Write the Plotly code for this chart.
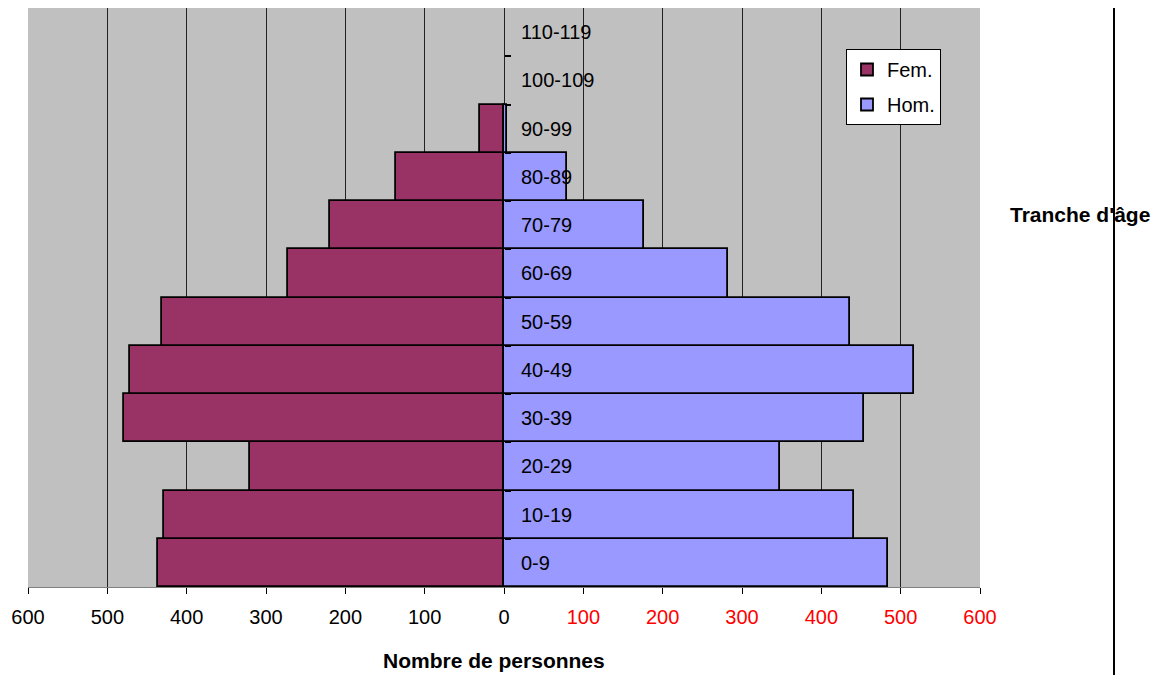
import plotly.graph_objects as go

categories = ["0-9", "10-19", "20-29", "30-39", "40-49", "50-59",
              "60-69", "70-79", "80-89", "90-99", "100-109", "110-119"]
fem = [436, 428, 320, 479, 471, 431, 272, 219, 136, 30, 0, 0]
hom = [484, 441, 348, 454, 517, 436, 282, 176, 79, 4, 0, 0]
tick_vals = [-600, -500, -400, -300, -200, -100, 0, 100, 200, 300, 400, 500, 600]

# page has an 8px body margin: figure starts at (8, 8) in the window
OFF = 8
W, H = 1162 - OFF, 675 - OFF
L, T = 28 - OFF, 8 - OFF
R = 1162 - 980
B = 675 - 587
pw, ph = W - L - R, H - T - B

def ptx(px):
    return (px - OFF - L) / pw

def pty(py):
    return 1 - (py - OFF - T) / ph

tick_text = []
for v in tick_vals:
    if v > 0:
        tick_text.append('<span style="color:#FF0000">%d</span>' % v)
    else:
        tick_text.append(str(abs(v)))

fig = go.Figure()
fig.add_trace(go.Bar(
    y=categories, x=[-v for v in fem], orientation="h", name="Fem.",
    marker=dict(color="#993366",
                line=dict(color="#000000", width=[1.8 if v else 0 for v in fem])),
    legendgroup="f"))
fig.add_trace(go.Bar(
    y=categories, x=hom, orientation="h", name="Hom.",
    marker=dict(color="#9999FF",
                line=dict(color="#000000", width=[1.8 if v else 0 for v in hom])),
    legendgroup="h"))

annotations = []
for c in categories:
    annotations.append(dict(x=0, y=c, xref="x", yref="y", text=c, showarrow=False,
                            xanchor="left", yanchor="middle", xshift=15,
                            font=dict(family="Liberation Sans, Arial", size=20, color="#000000")))
annotations.append(dict(x=ptx(1080), y=pty(215), xref="paper", yref="paper",
                        text="<b>Tranche d'âge</b>", showarrow=False,
                        xanchor="center", yanchor="middle",
                        font=dict(family="Liberation Sans, Arial", size=21, color="#000000")))
annotations.append(dict(x=ptx(494), y=pty(660), xref="paper", yref="paper",
                        text="<b>Nombre de personnes</b>", showarrow=False,
                        xanchor="center", yanchor="middle",
                        font=dict(family="Liberation Sans, Arial", size=21, color="#000000")))

fig.update_layout(
    width=W, height=H,
    margin=dict(l=L, r=R, t=T, b=B, pad=0),
    paper_bgcolor="#FFFFFF", plot_bgcolor="#C0C0C0",
    barmode="overlay", bargap=0,
    font=dict(family="Liberation Sans, Arial", size=20, color="#000000"),
    showlegend=True,
    legend=dict(x=ptx(846), y=pty(49), xanchor="left", yanchor="top",
                bgcolor="#FFFFFF", bordercolor="#000000", borderwidth=1,
                font=dict(size=20), tracegroupgap=6, traceorder="grouped",
                itemwidth=30),
    xaxis=dict(range=[-600, 600], tickvals=tick_vals, ticktext=tick_text,
               showgrid=True, gridcolor="#222222", gridwidth=1,
               zeroline=False, showline=True, linecolor="#808080", linewidth=1,
               mirror=True, ticks="outside", ticklen=6, tickcolor="#000000",
               ticklabelstandoff=6, tickfont=dict(size=20)),
    yaxis=dict(type="category", categoryorder="array", categoryarray=categories,
               range=[-0.5, len(categories) - 0.5],
               anchor="free", position=0.5, showticklabels=False,
               ticks="inside", ticklen=6, tickwidth=2, tickcolor="#000000",
               tickson="boundaries", showgrid=False, zeroline=False, showline=False),
    annotations=annotations,
    shapes=[dict(type="line", xref="paper", yref="paper",
                 x0=ptx(1114), x1=ptx(1114), y0=pty(0), y1=pty(675),
                 line=dict(color="#000000", width=2))],
)

fig.write_html("out.html")
